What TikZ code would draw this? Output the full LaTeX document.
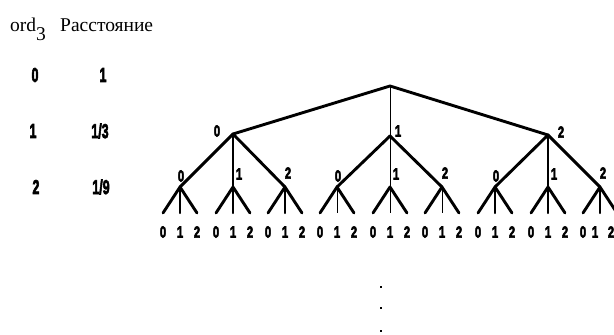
\documentclass[tikz,border=0pt]{standalone}
\usepackage{fontspec}
\setmainfont{Liberation Serif}
\newfontfamily\numfont{Liberation Sans}[BoldFeatures={FakeBold=4}]
\tikzset{
  thk/.style={line width=2.9pt, line cap=round, line join=round},
  med/.style={line width=2.2pt, line cap=round},
  thn/.style={line width=1pt},
  lbl/.style={inner sep=0pt, font=\numfont\bfseries\fontsize{16}{16}\selectfont},
  tbl/.style={inner sep=0pt, font=\numfont\bfseries\fontsize{20}{20}\selectfont},
  hdr/.style={inner sep=0pt, anchor=base west, font=\fontsize{19.5}{19.5}\selectfont},
  dotm/.style={fill=black, inner sep=0pt, minimum size=2.4pt}
}
\newcommand{\nx}[1]{\scalebox{0.7}[1]{#1}}
\newcommand{\tx}[1]{\scalebox{0.62}[1]{#1}}
\begin{document}
\begin{tikzpicture}[x=1pt,y=-1pt]
\useasboundingbox (0,0) rectangle (614,335);
% header
\node[hdr] (h1) at (10,31) {ord\raisebox{-9pt}{3}};
\node[hdr] (h2) at (60,31) {Расстояние};
% table
\node[tbl] (t00) at (35,75) {\tx{0}};
\node[tbl] (t01) at (103,75) {\tx{1}};
\node[tbl] (t10) at (33,131) {\tx{1}};
\node[tbl] (t11) at (100,131) {\tx{1/3}};
\node[tbl] (t20) at (36,187) {\tx{2}};
\node[tbl] (t21) at (101,187) {\tx{1/9}};
% tree
\coordinate (r) at (390,86);
\coordinate (a0) at (233,134);
\coordinate (a1) at (390,136);
\coordinate (a2) at (548,135);
\draw[thk] (a0) -- (r) -- (a2);
\draw[thn] (r) -- (a1);
\node[lbl] (la0) at (217,131) {\nx{0}};
\node[lbl] (la1) at (398,131) {\nx{1}};
\node[lbl] (la2) at (561,132) {\nx{2}};
\foreach \g/\cx in {0/233,1/390,2/548}{
  \coordinate (b\g0) at (\cx-53,187);
  \coordinate (b\g1) at (\cx,187);
  \coordinate (b\g2) at (\cx+52,187);
  \draw[thk] (a\g) -- (b\g0);
  \draw[thk] (a\g) -- (b\g2);
  \node[lbl] (lb\g0) at (\cx-52,176) {\nx{0}};
  \node[lbl] (lb\g1) at (\cx+6,174) {\nx{1}};
  \node[lbl] (lb\g2) at (\cx+55,173) {\nx{2}};
  \foreach \c in {0,1,2}{
    \path (b\g\c) ++(-17,26) coordinate (c\g\c0);
    \path (b\g\c) ++(0,26) coordinate (c\g\c1);
    \path (b\g\c) ++(17,26) coordinate (c\g\c2);
    \draw[thk] (c\g\c0) -- (b\g\c) -- (c\g\c2);
    \path (b\g\c) ++(-17,45) node[lbl] (d\g\c0) {\nx{0}};
    \path (b\g\c) ++(\ifnum\g\c=22 -5\else 0\fi,45) node[lbl] (d\g\c1) {\nx{1}};
    \path (b\g\c) ++(\ifnum\g\c=22 11\else 17\fi,45) node[lbl] (d\g\c2) {\nx{2}};
  }
}
\draw[thk] (a0) -- (b01);
\draw[thn] (a1) -- (b11);
\draw[thk] (a2) -- (b21);
\foreach \c in {0,1,2}{
  \draw[med] (b0\c) -- (c0\c1);
  \draw[thn] (b1\c) -- (c1\c1);
  \draw[med] (b2\c) -- (c2\c1);
}
% dots
\node[dotm] (p1) at (381,287) {};
\node[dotm] (p2) at (381,308) {};
\node[dotm] (p3) at (381,331) {};
\end{tikzpicture}
\end{document}
